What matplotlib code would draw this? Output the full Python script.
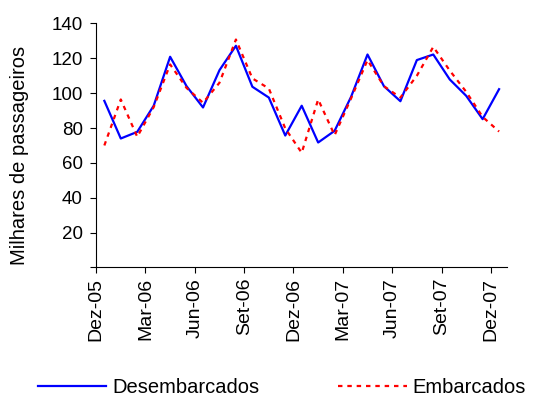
import numpy as np
import matplotlib.pyplot as plt

plt.rcParams['font.family'] = ['Liberation Sans', 'DejaVu Sans']

# monthly values, Dez-05 .. Dez-07
desembarcados = [95.6, 74.0, 77.8, 92.8, 120.9, 104.0, 91.8, 113.2, 127.2, 103.7, 97.5, 75.7, 92.8,
                 71.7, 78.4, 97.9, 122.2, 104.0, 95.4, 119.0, 122.2, 107.9, 98.5, 85.1, 102.3]
embarcados = [70.0, 96.4, 75.0, 92.0, 116.5, 103.0, 94.5, 106.0, 130.8, 108.5, 102.7, 79.8, 65.8,
              96.4, 75.9, 97.0, 119.0, 104.0, 97.5, 110.0, 126.6, 113.0, 100.8, 86.4, 78.0]
tick_labels = ['Dez-05', 'Mar-06', 'Jun-06', 'Set-06', 'Dez-06',
               'Mar-07', 'Jun-07', 'Set-07', 'Dez-07']

x = np.arange(len(desembarcados))

fig = plt.figure(figsize=(5.34, 3.98), dpi=100)
ax = fig.add_axes([0.18, 0.328, 0.77, 0.613])

ax.plot(x, desembarcados, color='#0000ff', lw=1.6, label='Desembarcados')
ax.plot(x, embarcados, color='#ff0000', lw=1.6, linestyle=(0, (2, 2.2)), label='Embarcados')

ax.set_xlim(-0.5, 24.5)
ax.set_ylim(0, 140)

ax.set_xticks(np.arange(0, 25, 3) - 0.5)
ax.set_xticklabels(tick_labels, rotation=90, fontsize=14)
ax.set_yticks(np.arange(0, 141, 20))
ax.set_yticklabels([''] + [str(v) for v in range(20, 141, 20)], fontsize=13.5)
ax.tick_params(direction='out', length=4.5, width=0.8, colors='black', pad=3)
ax.tick_params(axis='y', pad=5)

for s in ['top', 'right']:
    ax.spines[s].set_visible(False)

ax.set_ylabel('Milhares de passageiros', fontsize=14.5)
ax.yaxis.set_label_coords(-0.163, 0.46)

fig.legend(loc='center left', ncol=2, frameon=False, fontsize=14.5,
           bbox_to_anchor=(38 / 534, 0.027), borderpad=0, borderaxespad=0,
           handlelength=3.4, columnspacing=3.9, handletextpad=0.3)

fig.savefig('out.png', dpi=100)
